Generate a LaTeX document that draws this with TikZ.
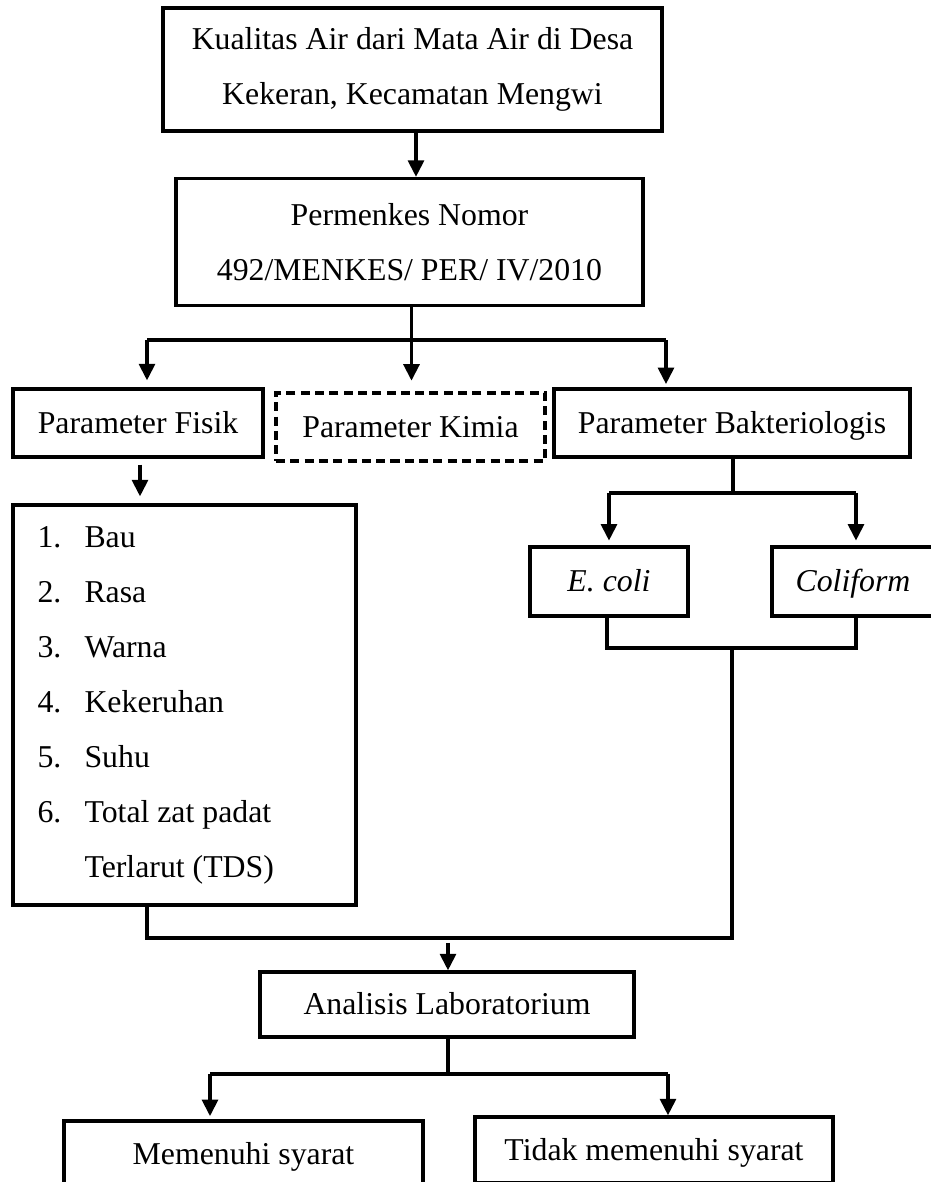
\documentclass[tikz,border=0pt]{standalone}
\usepackage{fontspec}
\setmainfont{Liberation Serif}
\usetikzlibrary{arrows.meta}
\begin{document}
\begin{tikzpicture}[x=0.3774pt,y=-0.3774pt,
  box/.style={draw, line width=1.3pt, rectangle, inner sep=0pt, align=center,
    font=\fontsize{12}{20.76}\selectfont},
  one/.style={text height=10.2pt, text depth=2.6pt},
  dbox/.style={box, dash pattern=on 3.4pt off 2pt},
  conn/.style={line width=1.2pt},
  arr/.style={conn, -{Triangle[length=6.2pt,width=6pt]}},
  item/.style={font=\fontsize{12}{14}\selectfont, inner sep=0pt, anchor=base west}]
\useasboundingbox (0,0) rectangle (931,1182);
\clip (0,0) rectangle (931,1182);

% boxes
\node[box, minimum width=188.3pt, minimum height=46.4pt] (top) at (412.5,69.5) {Kualitas Air dari Mata Air di Desa\\Kekeran, Kecamatan Mengwi};
\node[box, minimum width=176.2pt, minimum height=47.9pt] (perm) at (409.5,242) {Permenkes Nomor\\492/MENKES/ PER/ IV/2010};
\node[box, one, minimum width=94.4pt, minimum height=25.7pt] (fisik) at (138,423) {Parameter Fisik};
\node[dbox, one, minimum width=101.5pt, minimum height=25.7pt] (kimia) at (410.5,427) {Parameter Kimia};
\node[box, one, minimum width=134.4pt, minimum height=25.7pt] (bakt) at (732,423) {Parameter Bakteriologis};
\node[box, minimum width=129.4pt, minimum height=151pt] (list) at (184.5,705) {};
\node[box, one, minimum width=59.6pt, minimum height=26pt, font=\fontsize{12}{14}\selectfont\itshape] (ecoli) at (609,581.5) {E. coli};
\node[box, minimum width=63.4pt, minimum height=26pt] (coli) at (856,581.5) {};
\node[one, font=\fontsize{12}{14}\selectfont\itshape, inner sep=0pt] (colit) at (853,581.5) {Coliform};
\node[box, one, minimum width=141.1pt, minimum height=24.5pt] (lab) at (447,1004.5) {Analisis Laboratorium};
\node[box, one, minimum width=135.5pt, minimum height=24.9pt] (ok) at (243.5,1154) {Memenuhi syarat};
\node[box, one, minimum width=135.1pt, minimum height=24.9pt] (nok) at (654,1150) {Tidak memenuhi syarat};

% list items
\foreach \n/\t/\y in {1/Bau/547, 2/Rasa/602, 3/Warna/657, 4/Kekeruhan/712, 5/Suhu/767, 6/Total zat padat/822}{
  \node[item] (num\n) at (37,\y) {\n.};
  \node[item] (it\n) at (84,\y) {\t};
}
\node[item] (it7) at (84,877) {Terlarut (TDS)};

% coordinates
\coordinate (a1) at (416,0);
\coordinate (j1) at (411.5,340);
\coordinate (l1) at (147,340);
\coordinate (r1) at (666,340);
\coordinate (fx) at (140,0);
\coordinate (j2) at (733,493);
\coordinate (l2) at (609,493);
\coordinate (r2) at (856,493);
\coordinate (e1) at (607,648);
\coordinate (c1) at (856,648);
\coordinate (m2) at (732,648);
\coordinate (m3) at (732,938);
\coordinate (b1) at (147,938);
\coordinate (jl) at (448,938);
\coordinate (j4) at (448,1074);
\coordinate (l4) at (210,1074);
\coordinate (r4) at (668,1074);

% connectors
\draw[arr] (top.south -| a1) -- (perm.north -| a1);
\draw[conn] (perm.south -| j1) -- (j1);
\draw[conn] (l1) -- (r1);
\draw[arr, shorten >=2.6pt] (l1) -- (fisik.north -| l1);
\draw[arr, shorten >=4pt] (j1) -- (kimia.north -| j1);
\draw[arr, shorten >=1.2pt] (r1) -- (bakt.north -| r1);
\draw[arr, shorten <=2.2pt, shorten >=2.6pt] (fisik.south -| fx) -- (list.north -| fx);
\draw[conn] (bakt.south -| j2) -- (j2);
\draw[conn] (l2) -- (r2);
\draw[arr, shorten >=1.8pt] (l2) -- (ecoli.north -| l2);
\draw[arr, shorten >=1.8pt] (r2) -- (coli.north -| r2);
\draw[conn] (ecoli.south -| e1) -- (e1) -- (c1) -- (coli.south -| c1);
\draw[conn] (m2) -- (m3) -- (b1) -- (list.south -| b1);
\draw[arr, shorten <=1.8pt] (jl) -- (lab.north -| jl);
\draw[conn] (lab.south -| j4) -- (j4);
\draw[conn] (l4) -- (r4);
\draw[arr, shorten >=1.2pt] (l4) -- (ok.north -| l4);
\draw[arr] (r4) -- (nok.north -| r4);
\end{tikzpicture}
\end{document}
